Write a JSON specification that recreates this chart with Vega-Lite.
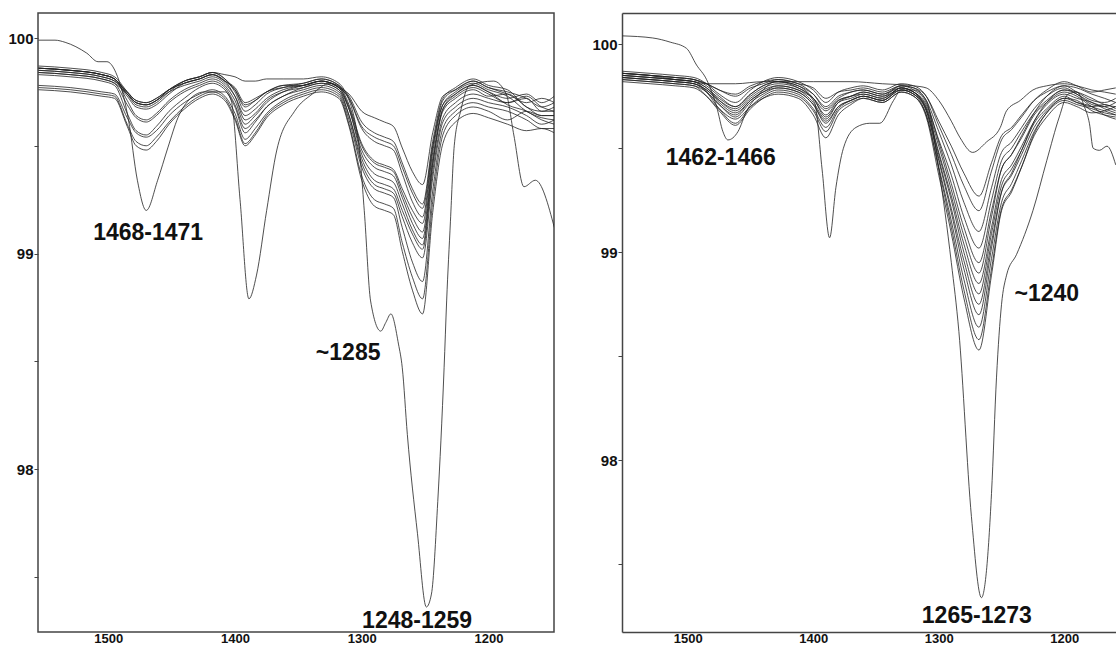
{
"$schema":"https://vega.github.io/schema/vega-lite/v6.json",
"background":"white",
"padding":{"left":7,"top":12,"right":0,"bottom":0},
"spacing":36,
"config":{"view":{"stroke":"#444","strokeWidth":1.5},"axis":{"grid":false,"title":null,"labelFont":"Liberation Sans","labelFontWeight":"bold","labelFontSize":15,"labelColor":"#111","tickColor":"#444","domainColor":"#444","domainWidth":1.5}},
"datasets":{
"left":[
{"s":"L1","x":1555,"y":99.86},{"s":"L1","x":1530,"y":99.85},{"s":"L1","x":1505,"y":99.83},{"s":"L1","x":1495,"y":99.81},{"s":"L1","x":1485,"y":99.75},{"s":"L1","x":1478,"y":99.71},{"s":"L1","x":1470,"y":99.70},{"s":"L1","x":1462,"y":99.72},{"s":"L1","x":1452,"y":99.76},{"s":"L1","x":1440,"y":99.79},{"s":"L1","x":1428,"y":99.81},{"s":"L1","x":1418,"y":99.83},{"s":"L1","x":1408,"y":99.80},{"s":"L1","x":1400,"y":99.77},{"s":"L1","x":1392,"y":99.70},{"s":"L1","x":1384,"y":99.72},{"s":"L1","x":1375,"y":99.75},{"s":"L1","x":1362,"y":99.78},{"s":"L1","x":1346,"y":99.78},{"s":"L1","x":1332,"y":99.80},{"s":"L1","x":1318,"y":99.77},{"s":"L1","x":1310,"y":99.74},{"s":"L1","x":1300,"y":99.66},{"s":"L1","x":1290,"y":99.63},{"s":"L1","x":1282,"y":99.61},{"s":"L1","x":1275,"y":99.59},{"s":"L1","x":1268,"y":99.49},{"s":"L1","x":1260,"y":99.38},{"s":"L1","x":1252,"y":99.32},{"s":"L1","x":1244,"y":99.56},{"s":"L1","x":1236,"y":99.73},{"s":"L1","x":1226,"y":99.76},{"s":"L1","x":1212,"y":99.80},{"s":"L1","x":1200,"y":99.77},{"s":"L1","x":1185,"y":99.74},{"s":"L1","x":1170,"y":99.70},{"s":"L1","x":1158,"y":99.72},{"s":"L1","x":1148,"y":99.70},
{"s":"L2","x":1555,"y":99.87},{"s":"L2","x":1530,"y":99.86},{"s":"L2","x":1505,"y":99.84},{"s":"L2","x":1495,"y":99.82},{"s":"L2","x":1485,"y":99.75},{"s":"L2","x":1478,"y":99.70},{"s":"L2","x":1470,"y":99.69},{"s":"L2","x":1462,"y":99.71},{"s":"L2","x":1452,"y":99.76},{"s":"L2","x":1440,"y":99.80},{"s":"L2","x":1428,"y":99.82},{"s":"L2","x":1418,"y":99.84},{"s":"L2","x":1408,"y":99.81},{"s":"L2","x":1400,"y":99.76},{"s":"L2","x":1392,"y":99.68},{"s":"L2","x":1384,"y":99.71},{"s":"L2","x":1375,"y":99.75},{"s":"L2","x":1362,"y":99.78},{"s":"L2","x":1346,"y":99.79},{"s":"L2","x":1332,"y":99.81},{"s":"L2","x":1318,"y":99.78},{"s":"L2","x":1310,"y":99.73},{"s":"L2","x":1300,"y":99.61},{"s":"L2","x":1290,"y":99.56},{"s":"L2","x":1282,"y":99.54},{"s":"L2","x":1275,"y":99.52},{"s":"L2","x":1268,"y":99.42},{"s":"L2","x":1260,"y":99.30},{"s":"L2","x":1252,"y":99.23},{"s":"L2","x":1244,"y":99.52},{"s":"L2","x":1236,"y":99.72},{"s":"L2","x":1226,"y":99.77},{"s":"L2","x":1212,"y":99.81},{"s":"L2","x":1200,"y":99.78},{"s":"L2","x":1185,"y":99.76},{"s":"L2","x":1170,"y":99.68},{"s":"L2","x":1158,"y":99.66},{"s":"L2","x":1148,"y":99.66},
{"s":"L3","x":1555,"y":99.85},{"s":"L3","x":1530,"y":99.84},{"s":"L3","x":1505,"y":99.82},{"s":"L3","x":1495,"y":99.80},{"s":"L3","x":1485,"y":99.75},{"s":"L3","x":1478,"y":99.71},{"s":"L3","x":1470,"y":99.70},{"s":"L3","x":1462,"y":99.72},{"s":"L3","x":1452,"y":99.76},{"s":"L3","x":1440,"y":99.79},{"s":"L3","x":1428,"y":99.81},{"s":"L3","x":1418,"y":99.83},{"s":"L3","x":1408,"y":99.80},{"s":"L3","x":1400,"y":99.76},{"s":"L3","x":1392,"y":99.69},{"s":"L3","x":1384,"y":99.71},{"s":"L3","x":1375,"y":99.75},{"s":"L3","x":1362,"y":99.77},{"s":"L3","x":1346,"y":99.78},{"s":"L3","x":1332,"y":99.80},{"s":"L3","x":1318,"y":99.77},{"s":"L3","x":1310,"y":99.72},{"s":"L3","x":1300,"y":99.59},{"s":"L3","x":1290,"y":99.54},{"s":"L3","x":1282,"y":99.52},{"s":"L3","x":1275,"y":99.50},{"s":"L3","x":1268,"y":99.40},{"s":"L3","x":1260,"y":99.28},{"s":"L3","x":1252,"y":99.21},{"s":"L3","x":1244,"y":99.50},{"s":"L3","x":1236,"y":99.69},{"s":"L3","x":1226,"y":99.74},{"s":"L3","x":1212,"y":99.78},{"s":"L3","x":1200,"y":99.75},{"s":"L3","x":1185,"y":99.72},{"s":"L3","x":1170,"y":99.74},{"s":"L3","x":1158,"y":99.70},{"s":"L3","x":1148,"y":99.73},
{"s":"L4","x":1555,"y":99.86},{"s":"L4","x":1530,"y":99.85},{"s":"L4","x":1505,"y":99.83},{"s":"L4","x":1495,"y":99.81},{"s":"L4","x":1485,"y":99.74},{"s":"L4","x":1478,"y":99.69},{"s":"L4","x":1470,"y":99.68},{"s":"L4","x":1462,"y":99.70},{"s":"L4","x":1452,"y":99.75},{"s":"L4","x":1440,"y":99.80},{"s":"L4","x":1428,"y":99.82},{"s":"L4","x":1418,"y":99.84},{"s":"L4","x":1408,"y":99.81},{"s":"L4","x":1400,"y":99.75},{"s":"L4","x":1392,"y":99.66},{"s":"L4","x":1384,"y":99.69},{"s":"L4","x":1375,"y":99.74},{"s":"L4","x":1362,"y":99.77},{"s":"L4","x":1346,"y":99.79},{"s":"L4","x":1332,"y":99.81},{"s":"L4","x":1318,"y":99.78},{"s":"L4","x":1310,"y":99.69},{"s":"L4","x":1300,"y":99.51},{"s":"L4","x":1290,"y":99.43},{"s":"L4","x":1282,"y":99.41},{"s":"L4","x":1275,"y":99.39},{"s":"L4","x":1268,"y":99.30},{"s":"L4","x":1260,"y":99.20},{"s":"L4","x":1252,"y":99.14},{"s":"L4","x":1244,"y":99.47},{"s":"L4","x":1236,"y":99.69},{"s":"L4","x":1226,"y":99.75},{"s":"L4","x":1212,"y":99.79},{"s":"L4","x":1200,"y":99.76},{"s":"L4","x":1185,"y":99.73},{"s":"L4","x":1170,"y":99.66},{"s":"L4","x":1158,"y":99.63},{"s":"L4","x":1148,"y":99.62},
{"s":"L5","x":1555,"y":99.84},{"s":"L5","x":1530,"y":99.83},{"s":"L5","x":1505,"y":99.81},{"s":"L5","x":1495,"y":99.79},{"s":"L5","x":1485,"y":99.74},{"s":"L5","x":1478,"y":99.70},{"s":"L5","x":1470,"y":99.69},{"s":"L5","x":1462,"y":99.71},{"s":"L5","x":1452,"y":99.75},{"s":"L5","x":1440,"y":99.78},{"s":"L5","x":1428,"y":99.80},{"s":"L5","x":1418,"y":99.82},{"s":"L5","x":1408,"y":99.79},{"s":"L5","x":1400,"y":99.73},{"s":"L5","x":1392,"y":99.64},{"s":"L5","x":1384,"y":99.67},{"s":"L5","x":1375,"y":99.72},{"s":"L5","x":1362,"y":99.76},{"s":"L5","x":1346,"y":99.78},{"s":"L5","x":1332,"y":99.80},{"s":"L5","x":1318,"y":99.77},{"s":"L5","x":1310,"y":99.68},{"s":"L5","x":1300,"y":99.50},{"s":"L5","x":1290,"y":99.42},{"s":"L5","x":1282,"y":99.40},{"s":"L5","x":1275,"y":99.38},{"s":"L5","x":1268,"y":99.28},{"s":"L5","x":1260,"y":99.17},{"s":"L5","x":1252,"y":99.10},{"s":"L5","x":1244,"y":99.44},{"s":"L5","x":1236,"y":99.67},{"s":"L5","x":1226,"y":99.73},{"s":"L5","x":1212,"y":99.77},{"s":"L5","x":1200,"y":99.74},{"s":"L5","x":1185,"y":99.70},{"s":"L5","x":1170,"y":99.72},{"s":"L5","x":1158,"y":99.66},{"s":"L5","x":1148,"y":99.68},
{"s":"L6","x":1555,"y":99.85},{"s":"L6","x":1530,"y":99.84},{"s":"L6","x":1505,"y":99.82},{"s":"L6","x":1495,"y":99.80},{"s":"L6","x":1485,"y":99.73},{"s":"L6","x":1478,"y":99.68},{"s":"L6","x":1470,"y":99.67},{"s":"L6","x":1462,"y":99.69},{"s":"L6","x":1452,"y":99.74},{"s":"L6","x":1440,"y":99.79},{"s":"L6","x":1428,"y":99.81},{"s":"L6","x":1418,"y":99.83},{"s":"L6","x":1408,"y":99.80},{"s":"L6","x":1400,"y":99.73},{"s":"L6","x":1392,"y":99.62},{"s":"L6","x":1384,"y":99.65},{"s":"L6","x":1375,"y":99.71},{"s":"L6","x":1362,"y":99.75},{"s":"L6","x":1346,"y":99.77},{"s":"L6","x":1332,"y":99.79},{"s":"L6","x":1318,"y":99.76},{"s":"L6","x":1310,"y":99.67},{"s":"L6","x":1300,"y":99.48},{"s":"L6","x":1290,"y":99.40},{"s":"L6","x":1282,"y":99.38},{"s":"L6","x":1275,"y":99.36},{"s":"L6","x":1268,"y":99.26},{"s":"L6","x":1260,"y":99.14},{"s":"L6","x":1252,"y":99.07},{"s":"L6","x":1244,"y":99.42},{"s":"L6","x":1236,"y":99.66},{"s":"L6","x":1226,"y":99.72},{"s":"L6","x":1212,"y":99.76},{"s":"L6","x":1200,"y":99.73},{"s":"L6","x":1185,"y":99.74},{"s":"L6","x":1170,"y":99.68},{"s":"L6","x":1158,"y":99.64},{"s":"L6","x":1148,"y":99.64},
{"s":"L7","x":1555,"y":99.86},{"s":"L7","x":1530,"y":99.85},{"s":"L7","x":1505,"y":99.83},{"s":"L7","x":1495,"y":99.81},{"s":"L7","x":1485,"y":99.71},{"s":"L7","x":1478,"y":99.64},{"s":"L7","x":1470,"y":99.62},{"s":"L7","x":1462,"y":99.65},{"s":"L7","x":1452,"y":99.71},{"s":"L7","x":1440,"y":99.76},{"s":"L7","x":1428,"y":99.79},{"s":"L7","x":1418,"y":99.81},{"s":"L7","x":1408,"y":99.78},{"s":"L7","x":1400,"y":99.71},{"s":"L7","x":1392,"y":99.60},{"s":"L7","x":1384,"y":99.64},{"s":"L7","x":1375,"y":99.70},{"s":"L7","x":1362,"y":99.75},{"s":"L7","x":1346,"y":99.78},{"s":"L7","x":1332,"y":99.80},{"s":"L7","x":1318,"y":99.77},{"s":"L7","x":1310,"y":99.67},{"s":"L7","x":1300,"y":99.46},{"s":"L7","x":1290,"y":99.37},{"s":"L7","x":1282,"y":99.35},{"s":"L7","x":1275,"y":99.33},{"s":"L7","x":1268,"y":99.23},{"s":"L7","x":1260,"y":99.11},{"s":"L7","x":1252,"y":99.04},{"s":"L7","x":1244,"y":99.41},{"s":"L7","x":1236,"y":99.67},{"s":"L7","x":1226,"y":99.74},{"s":"L7","x":1212,"y":99.78},{"s":"L7","x":1200,"y":99.75},{"s":"L7","x":1185,"y":99.69},{"s":"L7","x":1170,"y":99.66},{"s":"L7","x":1158,"y":99.62},{"s":"L7","x":1148,"y":99.60},
{"s":"L8","x":1555,"y":99.84},{"s":"L8","x":1530,"y":99.83},{"s":"L8","x":1505,"y":99.81},{"s":"L8","x":1495,"y":99.79},{"s":"L8","x":1485,"y":99.69},{"s":"L8","x":1478,"y":99.63},{"s":"L8","x":1470,"y":99.61},{"s":"L8","x":1462,"y":99.64},{"s":"L8","x":1452,"y":99.70},{"s":"L8","x":1440,"y":99.75},{"s":"L8","x":1428,"y":99.78},{"s":"L8","x":1418,"y":99.80},{"s":"L8","x":1408,"y":99.77},{"s":"L8","x":1400,"y":99.69},{"s":"L8","x":1392,"y":99.58},{"s":"L8","x":1384,"y":99.62},{"s":"L8","x":1375,"y":99.68},{"s":"L8","x":1362,"y":99.73},{"s":"L8","x":1346,"y":99.76},{"s":"L8","x":1332,"y":99.78},{"s":"L8","x":1318,"y":99.75},{"s":"L8","x":1310,"y":99.64},{"s":"L8","x":1300,"y":99.44},{"s":"L8","x":1290,"y":99.34},{"s":"L8","x":1282,"y":99.32},{"s":"L8","x":1275,"y":99.30},{"s":"L8","x":1268,"y":99.20},{"s":"L8","x":1260,"y":99.09},{"s":"L8","x":1252,"y":99.02},{"s":"L8","x":1244,"y":99.38},{"s":"L8","x":1236,"y":99.63},{"s":"L8","x":1226,"y":99.70},{"s":"L8","x":1212,"y":99.74},{"s":"L8","x":1200,"y":99.72},{"s":"L8","x":1185,"y":99.70},{"s":"L8","x":1170,"y":99.73},{"s":"L8","x":1158,"y":99.68},{"s":"L8","x":1148,"y":99.66},
{"s":"L9","x":1555,"y":99.83},{"s":"L9","x":1530,"y":99.82},{"s":"L9","x":1505,"y":99.80},{"s":"L9","x":1495,"y":99.78},{"s":"L9","x":1485,"y":99.65},{"s":"L9","x":1478,"y":99.57},{"s":"L9","x":1470,"y":99.55},{"s":"L9","x":1462,"y":99.59},{"s":"L9","x":1452,"y":99.66},{"s":"L9","x":1440,"y":99.72},{"s":"L9","x":1428,"y":99.77},{"s":"L9","x":1418,"y":99.79},{"s":"L9","x":1408,"y":99.76},{"s":"L9","x":1400,"y":99.68},{"s":"L9","x":1392,"y":99.56},{"s":"L9","x":1384,"y":99.61},{"s":"L9","x":1375,"y":99.68},{"s":"L9","x":1362,"y":99.73},{"s":"L9","x":1346,"y":99.77},{"s":"L9","x":1332,"y":99.79},{"s":"L9","x":1318,"y":99.76},{"s":"L9","x":1310,"y":99.64},{"s":"L9","x":1300,"y":99.42},{"s":"L9","x":1290,"y":99.32},{"s":"L9","x":1282,"y":99.30},{"s":"L9","x":1275,"y":99.28},{"s":"L9","x":1268,"y":99.17},{"s":"L9","x":1260,"y":99.05},{"s":"L9","x":1252,"y":98.98},{"s":"L9","x":1244,"y":99.35},{"s":"L9","x":1236,"y":99.61},{"s":"L9","x":1226,"y":99.68},{"s":"L9","x":1212,"y":99.72},{"s":"L9","x":1200,"y":99.70},{"s":"L9","x":1185,"y":99.68},{"s":"L9","x":1170,"y":99.64},{"s":"L9","x":1158,"y":99.60},{"s":"L9","x":1148,"y":99.62},
{"s":"L10","x":1555,"y":99.78},{"s":"L10","x":1530,"y":99.77},{"s":"L10","x":1505,"y":99.75},{"s":"L10","x":1495,"y":99.74},{"s":"L10","x":1485,"y":99.63},{"s":"L10","x":1478,"y":99.56},{"s":"L10","x":1470,"y":99.54},{"s":"L10","x":1462,"y":99.57},{"s":"L10","x":1452,"y":99.64},{"s":"L10","x":1440,"y":99.70},{"s":"L10","x":1428,"y":99.74},{"s":"L10","x":1418,"y":99.76},{"s":"L10","x":1408,"y":99.73},{"s":"L10","x":1400,"y":99.65},{"s":"L10","x":1392,"y":99.53},{"s":"L10","x":1384,"y":99.58},{"s":"L10","x":1375,"y":99.65},{"s":"L10","x":1362,"y":99.71},{"s":"L10","x":1346,"y":99.75},{"s":"L10","x":1332,"y":99.77},{"s":"L10","x":1318,"y":99.74},{"s":"L10","x":1310,"y":99.62},{"s":"L10","x":1300,"y":99.40},{"s":"L10","x":1290,"y":99.30},{"s":"L10","x":1282,"y":99.28},{"s":"L10","x":1275,"y":99.26},{"s":"L10","x":1268,"y":99.12},{"s":"L10","x":1260,"y":98.96},{"s":"L10","x":1252,"y":98.87},{"s":"L10","x":1244,"y":99.29},{"s":"L10","x":1236,"y":99.58},{"s":"L10","x":1226,"y":99.66},{"s":"L10","x":1212,"y":99.70},{"s":"L10","x":1200,"y":99.68},{"s":"L10","x":1185,"y":99.66},{"s":"L10","x":1170,"y":99.62},{"s":"L10","x":1158,"y":99.58},{"s":"L10","x":1148,"y":99.58},
{"s":"L11","x":1555,"y":99.77},{"s":"L11","x":1530,"y":99.76},{"s":"L11","x":1505,"y":99.74},{"s":"L11","x":1495,"y":99.73},{"s":"L11","x":1485,"y":99.60},{"s":"L11","x":1478,"y":99.52},{"s":"L11","x":1470,"y":99.50},{"s":"L11","x":1462,"y":99.54},{"s":"L11","x":1452,"y":99.61},{"s":"L11","x":1440,"y":99.68},{"s":"L11","x":1428,"y":99.73},{"s":"L11","x":1418,"y":99.75},{"s":"L11","x":1408,"y":99.72},{"s":"L11","x":1400,"y":99.63},{"s":"L11","x":1392,"y":99.51},{"s":"L11","x":1384,"y":99.56},{"s":"L11","x":1375,"y":99.64},{"s":"L11","x":1362,"y":99.70},{"s":"L11","x":1346,"y":99.74},{"s":"L11","x":1332,"y":99.76},{"s":"L11","x":1318,"y":99.73},{"s":"L11","x":1310,"y":99.60},{"s":"L11","x":1300,"y":99.36},{"s":"L11","x":1290,"y":99.25},{"s":"L11","x":1282,"y":99.23},{"s":"L11","x":1275,"y":99.21},{"s":"L11","x":1268,"y":99.05},{"s":"L11","x":1260,"y":98.89},{"s":"L11","x":1252,"y":98.79},{"s":"L11","x":1244,"y":99.24},{"s":"L11","x":1236,"y":99.55},{"s":"L11","x":1226,"y":99.64},{"s":"L11","x":1212,"y":99.68},{"s":"L11","x":1200,"y":99.66},{"s":"L11","x":1185,"y":99.62},{"s":"L11","x":1170,"y":99.66},{"s":"L11","x":1158,"y":99.64},{"s":"L11","x":1148,"y":99.64},
{"s":"L12","x":1555,"y":99.76},{"s":"L12","x":1530,"y":99.75},{"s":"L12","x":1505,"y":99.73},{"s":"L12","x":1495,"y":99.72},{"s":"L12","x":1485,"y":99.59},{"s":"L12","x":1478,"y":99.50},{"s":"L12","x":1470,"y":99.48},{"s":"L12","x":1462,"y":99.52},{"s":"L12","x":1452,"y":99.60},{"s":"L12","x":1440,"y":99.67},{"s":"L12","x":1428,"y":99.72},{"s":"L12","x":1418,"y":99.74},{"s":"L12","x":1408,"y":99.71},{"s":"L12","x":1400,"y":99.62},{"s":"L12","x":1392,"y":99.50},{"s":"L12","x":1384,"y":99.55},{"s":"L12","x":1375,"y":99.63},{"s":"L12","x":1362,"y":99.69},{"s":"L12","x":1346,"y":99.73},{"s":"L12","x":1332,"y":99.75},{"s":"L12","x":1318,"y":99.72},{"s":"L12","x":1310,"y":99.59},{"s":"L12","x":1300,"y":99.34},{"s":"L12","x":1290,"y":99.22},{"s":"L12","x":1282,"y":99.20},{"s":"L12","x":1275,"y":99.18},{"s":"L12","x":1268,"y":99.01},{"s":"L12","x":1260,"y":98.83},{"s":"L12","x":1252,"y":98.72},{"s":"L12","x":1244,"y":99.19},{"s":"L12","x":1236,"y":99.51},{"s":"L12","x":1226,"y":99.61},{"s":"L12","x":1212,"y":99.65},{"s":"L12","x":1200,"y":99.63},{"s":"L12","x":1185,"y":99.60},{"s":"L12","x":1170,"y":99.57},{"s":"L12","x":1158,"y":99.58},{"s":"L12","x":1148,"y":99.56},
{"s":"L13","x":1555,"y":99.86},{"s":"L13","x":1530,"y":99.85},{"s":"L13","x":1505,"y":99.83},{"s":"L13","x":1495,"y":99.81},{"s":"L13","x":1485,"y":99.74},{"s":"L13","x":1478,"y":99.70},{"s":"L13","x":1470,"y":99.69},{"s":"L13","x":1462,"y":99.71},{"s":"L13","x":1452,"y":99.76},{"s":"L13","x":1440,"y":99.80},{"s":"L13","x":1428,"y":99.82},{"s":"L13","x":1418,"y":99.84},{"s":"L13","x":1408,"y":99.83},{"s":"L13","x":1400,"y":99.82},{"s":"L13","x":1392,"y":99.80},{"s":"L13","x":1384,"y":99.80},{"s":"L13","x":1375,"y":99.81},{"s":"L13","x":1362,"y":99.81},{"s":"L13","x":1346,"y":99.81},{"s":"L13","x":1332,"y":99.82},{"s":"L13","x":1318,"y":99.79},{"s":"L13","x":1310,"y":99.72},{"s":"L13","x":1300,"y":99.58},{"s":"L13","x":1290,"y":99.52},{"s":"L13","x":1282,"y":99.50},{"s":"L13","x":1275,"y":99.48},{"s":"L13","x":1268,"y":99.37},{"s":"L13","x":1260,"y":99.24},{"s":"L13","x":1252,"y":99.17},{"s":"L13","x":1244,"y":99.49},{"s":"L13","x":1236,"y":99.71},{"s":"L13","x":1226,"y":99.76},{"s":"L13","x":1212,"y":99.80},{"s":"L13","x":1200,"y":99.77},{"s":"L13","x":1185,"y":99.75},{"s":"L13","x":1170,"y":99.72},{"s":"L13","x":1158,"y":99.68},{"s":"L13","x":1148,"y":99.70},
{"s":"L0","x":1555,"y":99.99},{"s":"L0","x":1542,"y":99.99},{"s":"L0","x":1534,"y":99.98},{"s":"L0","x":1517,"y":99.93},{"s":"L0","x":1508,"y":99.89},{"s":"L0","x":1501,"y":99.89},{"s":"L0","x":1494,"y":99.84},{"s":"L0","x":1484,"y":99.62},{"s":"L0","x":1477,"y":99.34},{"s":"L0","x":1470,"y":99.20},{"s":"L0","x":1461,"y":99.34},{"s":"L0","x":1453,"y":99.49},{"s":"L0","x":1445,"y":99.63},{"s":"L0","x":1435,"y":99.72},{"s":"L0","x":1424,"y":99.75},{"s":"L0","x":1408,"y":99.75},{"s":"L0","x":1403,"y":99.71},{"s":"L0","x":1396,"y":99.25},{"s":"L0","x":1389,"y":98.79},{"s":"L0","x":1383,"y":98.90},{"s":"L0","x":1375,"y":99.20},{"s":"L0","x":1367,"y":99.48},{"s":"L0","x":1353,"y":99.66},{"s":"L0","x":1339,"y":99.74},{"s":"L0","x":1325,"y":99.79},{"s":"L0","x":1315,"y":99.76},{"s":"L0","x":1303,"y":99.54},{"s":"L0","x":1298,"y":99.20},{"s":"L0","x":1293,"y":98.78},{"s":"L0","x":1285,"y":98.64},{"s":"L0","x":1281,"y":98.68},{"s":"L0","x":1277,"y":98.72},{"s":"L0","x":1271,"y":98.58},{"s":"L0","x":1268,"y":98.47},{"s":"L0","x":1264,"y":98.16},{"s":"L0","x":1256,"y":97.70},{"s":"L0","x":1249,"y":97.36},{"s":"L0","x":1245,"y":97.42},{"s":"L0","x":1240,"y":97.85},{"s":"L0","x":1235,"y":98.47},{"s":"L0","x":1233,"y":98.78},{"s":"L0","x":1230,"y":99.15},{"s":"L0","x":1227,"y":99.50},{"s":"L0","x":1222,"y":99.66},{"s":"L0","x":1215,"y":99.78},{"s":"L0","x":1196,"y":99.80},{"s":"L0","x":1186,"y":99.74},{"s":"L0","x":1180,"y":99.55},{"s":"L0","x":1172,"y":99.31},{"s":"L0","x":1163,"y":99.34},{"s":"L0","x":1148,"y":99.12}
],
"right":[
{"s":"R1","x":1552,"y":99.86},{"s":"R1","x":1530,"y":99.85},{"s":"R1","x":1510,"y":99.84},{"s":"R1","x":1495,"y":99.83},{"s":"R1","x":1485,"y":99.81},{"s":"R1","x":1475,"y":99.78},{"s":"R1","x":1462,"y":99.76},{"s":"R1","x":1450,"y":99.80},{"s":"R1","x":1440,"y":99.82},{"s":"R1","x":1428,"y":99.83},{"s":"R1","x":1412,"y":99.81},{"s":"R1","x":1400,"y":99.79},{"s":"R1","x":1390,"y":99.74},{"s":"R1","x":1380,"y":99.77},{"s":"R1","x":1370,"y":99.78},{"s":"R1","x":1360,"y":99.79},{"s":"R1","x":1345,"y":99.77},{"s":"R1","x":1330,"y":99.80},{"s":"R1","x":1320,"y":99.79},{"s":"R1","x":1310,"y":99.75},{"s":"R1","x":1300,"y":99.63},{"s":"R1","x":1290,"y":99.51},{"s":"R1","x":1280,"y":99.38},{"s":"R1","x":1268,"y":99.27},{"s":"R1","x":1258,"y":99.43},{"s":"R1","x":1250,"y":99.56},{"s":"R1","x":1242,"y":99.60},{"s":"R1","x":1234,"y":99.66},{"s":"R1","x":1224,"y":99.73},{"s":"R1","x":1214,"y":99.77},{"s":"R1","x":1200,"y":99.80},{"s":"R1","x":1190,"y":99.79},{"s":"R1","x":1178,"y":99.76},{"s":"R1","x":1168,"y":99.74},{"s":"R1","x":1159,"y":99.72},
{"s":"R2","x":1552,"y":99.87},{"s":"R2","x":1530,"y":99.86},{"s":"R2","x":1510,"y":99.85},{"s":"R2","x":1495,"y":99.84},{"s":"R2","x":1485,"y":99.81},{"s":"R2","x":1475,"y":99.76},{"s":"R2","x":1462,"y":99.72},{"s":"R2","x":1450,"y":99.78},{"s":"R2","x":1440,"y":99.82},{"s":"R2","x":1428,"y":99.84},{"s":"R2","x":1412,"y":99.82},{"s":"R2","x":1400,"y":99.78},{"s":"R2","x":1390,"y":99.72},{"s":"R2","x":1380,"y":99.77},{"s":"R2","x":1370,"y":99.79},{"s":"R2","x":1360,"y":99.80},{"s":"R2","x":1345,"y":99.78},{"s":"R2","x":1330,"y":99.81},{"s":"R2","x":1320,"y":99.80},{"s":"R2","x":1310,"y":99.75},{"s":"R2","x":1300,"y":99.61},{"s":"R2","x":1290,"y":99.47},{"s":"R2","x":1280,"y":99.32},{"s":"R2","x":1268,"y":99.20},{"s":"R2","x":1258,"y":99.39},{"s":"R2","x":1250,"y":99.54},{"s":"R2","x":1242,"y":99.59},{"s":"R2","x":1234,"y":99.65},{"s":"R2","x":1224,"y":99.73},{"s":"R2","x":1214,"y":99.78},{"s":"R2","x":1200,"y":99.82},{"s":"R2","x":1190,"y":99.80},{"s":"R2","x":1178,"y":99.77},{"s":"R2","x":1168,"y":99.78},{"s":"R2","x":1159,"y":99.79},
{"s":"R3","x":1552,"y":99.85},{"s":"R3","x":1530,"y":99.84},{"s":"R3","x":1510,"y":99.83},{"s":"R3","x":1495,"y":99.82},{"s":"R3","x":1485,"y":99.79},{"s":"R3","x":1475,"y":99.74},{"s":"R3","x":1462,"y":99.70},{"s":"R3","x":1450,"y":99.76},{"s":"R3","x":1440,"y":99.80},{"s":"R3","x":1428,"y":99.82},{"s":"R3","x":1412,"y":99.80},{"s":"R3","x":1400,"y":99.76},{"s":"R3","x":1390,"y":99.70},{"s":"R3","x":1380,"y":99.75},{"s":"R3","x":1370,"y":99.77},{"s":"R3","x":1360,"y":99.78},{"s":"R3","x":1345,"y":99.76},{"s":"R3","x":1330,"y":99.80},{"s":"R3","x":1320,"y":99.79},{"s":"R3","x":1310,"y":99.73},{"s":"R3","x":1300,"y":99.58},{"s":"R3","x":1290,"y":99.42},{"s":"R3","x":1280,"y":99.24},{"s":"R3","x":1268,"y":99.10},{"s":"R3","x":1258,"y":99.31},{"s":"R3","x":1250,"y":99.48},{"s":"R3","x":1242,"y":99.53},{"s":"R3","x":1234,"y":99.60},{"s":"R3","x":1224,"y":99.69},{"s":"R3","x":1214,"y":99.75},{"s":"R3","x":1200,"y":99.79},{"s":"R3","x":1190,"y":99.76},{"s":"R3","x":1178,"y":99.72},{"s":"R3","x":1168,"y":99.70},{"s":"R3","x":1159,"y":99.68},
{"s":"R4","x":1552,"y":99.86},{"s":"R4","x":1530,"y":99.85},{"s":"R4","x":1510,"y":99.84},{"s":"R4","x":1495,"y":99.83},{"s":"R4","x":1485,"y":99.81},{"s":"R4","x":1475,"y":99.78},{"s":"R4","x":1462,"y":99.75},{"s":"R4","x":1450,"y":99.79},{"s":"R4","x":1440,"y":99.81},{"s":"R4","x":1428,"y":99.83},{"s":"R4","x":1412,"y":99.81},{"s":"R4","x":1400,"y":99.76},{"s":"R4","x":1390,"y":99.69},{"s":"R4","x":1380,"y":99.74},{"s":"R4","x":1370,"y":99.77},{"s":"R4","x":1360,"y":99.78},{"s":"R4","x":1345,"y":99.76},{"s":"R4","x":1330,"y":99.79},{"s":"R4","x":1320,"y":99.77},{"s":"R4","x":1310,"y":99.71},{"s":"R4","x":1300,"y":99.54},{"s":"R4","x":1290,"y":99.37},{"s":"R4","x":1280,"y":99.17},{"s":"R4","x":1268,"y":99.02},{"s":"R4","x":1258,"y":99.25},{"s":"R4","x":1250,"y":99.44},{"s":"R4","x":1242,"y":99.50},{"s":"R4","x":1234,"y":99.58},{"s":"R4","x":1224,"y":99.67},{"s":"R4","x":1214,"y":99.73},{"s":"R4","x":1200,"y":99.78},{"s":"R4","x":1190,"y":99.77},{"s":"R4","x":1178,"y":99.74},{"s":"R4","x":1168,"y":99.71},{"s":"R4","x":1159,"y":99.70},
{"s":"R5","x":1552,"y":99.84},{"s":"R5","x":1530,"y":99.83},{"s":"R5","x":1510,"y":99.82},{"s":"R5","x":1495,"y":99.81},{"s":"R5","x":1485,"y":99.78},{"s":"R5","x":1475,"y":99.73},{"s":"R5","x":1462,"y":99.69},{"s":"R5","x":1450,"y":99.75},{"s":"R5","x":1440,"y":99.79},{"s":"R5","x":1428,"y":99.81},{"s":"R5","x":1412,"y":99.79},{"s":"R5","x":1400,"y":99.74},{"s":"R5","x":1390,"y":99.66},{"s":"R5","x":1380,"y":99.73},{"s":"R5","x":1370,"y":99.75},{"s":"R5","x":1360,"y":99.77},{"s":"R5","x":1345,"y":99.75},{"s":"R5","x":1330,"y":99.80},{"s":"R5","x":1320,"y":99.78},{"s":"R5","x":1310,"y":99.72},{"s":"R5","x":1300,"y":99.53},{"s":"R5","x":1290,"y":99.33},{"s":"R5","x":1280,"y":99.12},{"s":"R5","x":1268,"y":98.95},{"s":"R5","x":1258,"y":99.20},{"s":"R5","x":1250,"y":99.40},{"s":"R5","x":1242,"y":99.47},{"s":"R5","x":1234,"y":99.55},{"s":"R5","x":1224,"y":99.66},{"s":"R5","x":1214,"y":99.72},{"s":"R5","x":1200,"y":99.77},{"s":"R5","x":1190,"y":99.75},{"s":"R5","x":1178,"y":99.70},{"s":"R5","x":1168,"y":99.68},{"s":"R5","x":1159,"y":99.66},
{"s":"R6","x":1552,"y":99.85},{"s":"R6","x":1530,"y":99.84},{"s":"R6","x":1510,"y":99.83},{"s":"R6","x":1495,"y":99.82},{"s":"R6","x":1485,"y":99.79},{"s":"R6","x":1475,"y":99.73},{"s":"R6","x":1462,"y":99.68},{"s":"R6","x":1450,"y":99.74},{"s":"R6","x":1440,"y":99.78},{"s":"R6","x":1428,"y":99.80},{"s":"R6","x":1412,"y":99.78},{"s":"R6","x":1400,"y":99.74},{"s":"R6","x":1390,"y":99.68},{"s":"R6","x":1380,"y":99.73},{"s":"R6","x":1370,"y":99.75},{"s":"R6","x":1360,"y":99.76},{"s":"R6","x":1345,"y":99.74},{"s":"R6","x":1330,"y":99.79},{"s":"R6","x":1320,"y":99.77},{"s":"R6","x":1310,"y":99.70},{"s":"R6","x":1300,"y":99.51},{"s":"R6","x":1290,"y":99.30},{"s":"R6","x":1280,"y":99.08},{"s":"R6","x":1268,"y":98.90},{"s":"R6","x":1258,"y":99.17},{"s":"R6","x":1250,"y":99.40},{"s":"R6","x":1242,"y":99.47},{"s":"R6","x":1234,"y":99.56},{"s":"R6","x":1224,"y":99.67},{"s":"R6","x":1214,"y":99.75},{"s":"R6","x":1200,"y":99.80},{"s":"R6","x":1190,"y":99.77},{"s":"R6","x":1178,"y":99.73},{"s":"R6","x":1168,"y":99.72},{"s":"R6","x":1159,"y":99.74},
{"s":"R7","x":1552,"y":99.83},{"s":"R7","x":1530,"y":99.82},{"s":"R7","x":1510,"y":99.81},{"s":"R7","x":1495,"y":99.80},{"s":"R7","x":1485,"y":99.77},{"s":"R7","x":1475,"y":99.71},{"s":"R7","x":1462,"y":99.66},{"s":"R7","x":1450,"y":99.73},{"s":"R7","x":1440,"y":99.77},{"s":"R7","x":1428,"y":99.80},{"s":"R7","x":1412,"y":99.78},{"s":"R7","x":1400,"y":99.72},{"s":"R7","x":1390,"y":99.64},{"s":"R7","x":1380,"y":99.72},{"s":"R7","x":1370,"y":99.75},{"s":"R7","x":1360,"y":99.77},{"s":"R7","x":1345,"y":99.75},{"s":"R7","x":1330,"y":99.78},{"s":"R7","x":1320,"y":99.76},{"s":"R7","x":1310,"y":99.69},{"s":"R7","x":1300,"y":99.48},{"s":"R7","x":1290,"y":99.27},{"s":"R7","x":1280,"y":99.04},{"s":"R7","x":1268,"y":98.85},{"s":"R7","x":1258,"y":99.12},{"s":"R7","x":1250,"y":99.35},{"s":"R7","x":1242,"y":99.42},{"s":"R7","x":1234,"y":99.51},{"s":"R7","x":1224,"y":99.63},{"s":"R7","x":1214,"y":99.71},{"s":"R7","x":1200,"y":99.76},{"s":"R7","x":1190,"y":99.74},{"s":"R7","x":1178,"y":99.72},{"s":"R7","x":1168,"y":99.69},{"s":"R7","x":1159,"y":99.67},
{"s":"R8","x":1552,"y":99.86},{"s":"R8","x":1530,"y":99.85},{"s":"R8","x":1510,"y":99.84},{"s":"R8","x":1495,"y":99.83},{"s":"R8","x":1485,"y":99.80},{"s":"R8","x":1475,"y":99.75},{"s":"R8","x":1462,"y":99.70},{"s":"R8","x":1450,"y":99.76},{"s":"R8","x":1440,"y":99.80},{"s":"R8","x":1428,"y":99.82},{"s":"R8","x":1412,"y":99.80},{"s":"R8","x":1400,"y":99.74},{"s":"R8","x":1390,"y":99.65},{"s":"R8","x":1380,"y":99.72},{"s":"R8","x":1370,"y":99.74},{"s":"R8","x":1360,"y":99.76},{"s":"R8","x":1345,"y":99.74},{"s":"R8","x":1330,"y":99.79},{"s":"R8","x":1320,"y":99.77},{"s":"R8","x":1310,"y":99.69},{"s":"R8","x":1300,"y":99.47},{"s":"R8","x":1290,"y":99.25},{"s":"R8","x":1280,"y":99.00},{"s":"R8","x":1268,"y":98.80},{"s":"R8","x":1258,"y":99.09},{"s":"R8","x":1250,"y":99.32},{"s":"R8","x":1242,"y":99.40},{"s":"R8","x":1234,"y":99.49},{"s":"R8","x":1224,"y":99.62},{"s":"R8","x":1214,"y":99.69},{"s":"R8","x":1200,"y":99.75},{"s":"R8","x":1190,"y":99.72},{"s":"R8","x":1178,"y":99.70},{"s":"R8","x":1168,"y":99.71},{"s":"R8","x":1159,"y":99.69},
{"s":"R9","x":1552,"y":99.84},{"s":"R9","x":1530,"y":99.83},{"s":"R9","x":1510,"y":99.82},{"s":"R9","x":1495,"y":99.81},{"s":"R9","x":1485,"y":99.77},{"s":"R9","x":1475,"y":99.71},{"s":"R9","x":1462,"y":99.65},{"s":"R9","x":1450,"y":99.72},{"s":"R9","x":1440,"y":99.76},{"s":"R9","x":1428,"y":99.79},{"s":"R9","x":1412,"y":99.77},{"s":"R9","x":1400,"y":99.71},{"s":"R9","x":1390,"y":99.62},{"s":"R9","x":1380,"y":99.70},{"s":"R9","x":1370,"y":99.73},{"s":"R9","x":1360,"y":99.75},{"s":"R9","x":1345,"y":99.73},{"s":"R9","x":1330,"y":99.78},{"s":"R9","x":1320,"y":99.76},{"s":"R9","x":1310,"y":99.68},{"s":"R9","x":1300,"y":99.45},{"s":"R9","x":1290,"y":99.21},{"s":"R9","x":1280,"y":98.96},{"s":"R9","x":1268,"y":98.75},{"s":"R9","x":1258,"y":99.05},{"s":"R9","x":1250,"y":99.29},{"s":"R9","x":1242,"y":99.37},{"s":"R9","x":1234,"y":99.47},{"s":"R9","x":1224,"y":99.60},{"s":"R9","x":1214,"y":99.68},{"s":"R9","x":1200,"y":99.74},{"s":"R9","x":1190,"y":99.73},{"s":"R9","x":1178,"y":99.68},{"s":"R9","x":1168,"y":99.66},{"s":"R9","x":1159,"y":99.65},
{"s":"R10","x":1552,"y":99.85},{"s":"R10","x":1530,"y":99.84},{"s":"R10","x":1510,"y":99.83},{"s":"R10","x":1495,"y":99.82},{"s":"R10","x":1485,"y":99.77},{"s":"R10","x":1475,"y":99.69},{"s":"R10","x":1462,"y":99.62},{"s":"R10","x":1450,"y":99.70},{"s":"R10","x":1440,"y":99.75},{"s":"R10","x":1428,"y":99.78},{"s":"R10","x":1412,"y":99.76},{"s":"R10","x":1400,"y":99.69},{"s":"R10","x":1390,"y":99.60},{"s":"R10","x":1380,"y":99.69},{"s":"R10","x":1370,"y":99.73},{"s":"R10","x":1360,"y":99.75},{"s":"R10","x":1345,"y":99.73},{"s":"R10","x":1330,"y":99.79},{"s":"R10","x":1320,"y":99.77},{"s":"R10","x":1310,"y":99.68},{"s":"R10","x":1300,"y":99.44},{"s":"R10","x":1290,"y":99.19},{"s":"R10","x":1280,"y":98.92},{"s":"R10","x":1268,"y":98.70},{"s":"R10","x":1258,"y":99.02},{"s":"R10","x":1250,"y":99.29},{"s":"R10","x":1242,"y":99.38},{"s":"R10","x":1234,"y":99.49},{"s":"R10","x":1224,"y":99.63},{"s":"R10","x":1214,"y":99.72},{"s":"R10","x":1200,"y":99.78},{"s":"R10","x":1190,"y":99.76},{"s":"R10","x":1178,"y":99.71},{"s":"R10","x":1168,"y":99.70},{"s":"R10","x":1159,"y":99.72},
{"s":"R11","x":1552,"y":99.83},{"s":"R11","x":1530,"y":99.82},{"s":"R11","x":1510,"y":99.81},{"s":"R11","x":1495,"y":99.80},{"s":"R11","x":1485,"y":99.75},{"s":"R11","x":1475,"y":99.68},{"s":"R11","x":1462,"y":99.61},{"s":"R11","x":1450,"y":99.69},{"s":"R11","x":1440,"y":99.74},{"s":"R11","x":1428,"y":99.77},{"s":"R11","x":1412,"y":99.75},{"s":"R11","x":1400,"y":99.68},{"s":"R11","x":1390,"y":99.58},{"s":"R11","x":1380,"y":99.68},{"s":"R11","x":1370,"y":99.72},{"s":"R11","x":1360,"y":99.74},{"s":"R11","x":1345,"y":99.72},{"s":"R11","x":1330,"y":99.77},{"s":"R11","x":1320,"y":99.75},{"s":"R11","x":1310,"y":99.66},{"s":"R11","x":1300,"y":99.41},{"s":"R11","x":1290,"y":99.15},{"s":"R11","x":1280,"y":98.87},{"s":"R11","x":1268,"y":98.64},{"s":"R11","x":1258,"y":98.97},{"s":"R11","x":1250,"y":99.24},{"s":"R11","x":1242,"y":99.33},{"s":"R11","x":1234,"y":99.44},{"s":"R11","x":1224,"y":99.58},{"s":"R11","x":1214,"y":99.67},{"s":"R11","x":1200,"y":99.73},{"s":"R11","x":1190,"y":99.71},{"s":"R11","x":1178,"y":99.69},{"s":"R11","x":1168,"y":99.67},{"s":"R11","x":1159,"y":99.66},
{"s":"R12","x":1552,"y":99.84},{"s":"R12","x":1530,"y":99.83},{"s":"R12","x":1510,"y":99.82},{"s":"R12","x":1495,"y":99.81},{"s":"R12","x":1485,"y":99.78},{"s":"R12","x":1475,"y":99.72},{"s":"R12","x":1462,"y":99.67},{"s":"R12","x":1450,"y":99.73},{"s":"R12","x":1440,"y":99.77},{"s":"R12","x":1428,"y":99.79},{"s":"R12","x":1412,"y":99.77},{"s":"R12","x":1400,"y":99.71},{"s":"R12","x":1390,"y":99.63},{"s":"R12","x":1380,"y":99.70},{"s":"R12","x":1370,"y":99.73},{"s":"R12","x":1360,"y":99.75},{"s":"R12","x":1345,"y":99.73},{"s":"R12","x":1330,"y":99.78},{"s":"R12","x":1320,"y":99.76},{"s":"R12","x":1310,"y":99.66},{"s":"R12","x":1300,"y":99.40},{"s":"R12","x":1290,"y":99.12},{"s":"R12","x":1280,"y":98.82},{"s":"R12","x":1268,"y":98.58},{"s":"R12","x":1258,"y":98.92},{"s":"R12","x":1250,"y":99.21},{"s":"R12","x":1242,"y":99.30},{"s":"R12","x":1234,"y":99.41},{"s":"R12","x":1224,"y":99.56},{"s":"R12","x":1214,"y":99.65},{"s":"R12","x":1200,"y":99.72},{"s":"R12","x":1190,"y":99.70},{"s":"R12","x":1178,"y":99.67},{"s":"R12","x":1168,"y":99.68},{"s":"R12","x":1159,"y":99.70},
{"s":"R14","x":1552,"y":99.82},{"s":"R14","x":1530,"y":99.81},{"s":"R14","x":1510,"y":99.80},{"s":"R14","x":1495,"y":99.79},{"s":"R14","x":1485,"y":99.75},{"s":"R14","x":1475,"y":99.69},{"s":"R14","x":1462,"y":99.64},{"s":"R14","x":1450,"y":99.70},{"s":"R14","x":1440,"y":99.74},{"s":"R14","x":1428,"y":99.76},{"s":"R14","x":1412,"y":99.74},{"s":"R14","x":1400,"y":99.66},{"s":"R14","x":1390,"y":99.55},{"s":"R14","x":1380,"y":99.66},{"s":"R14","x":1370,"y":99.71},{"s":"R14","x":1360,"y":99.74},{"s":"R14","x":1345,"y":99.72},{"s":"R14","x":1330,"y":99.77},{"s":"R14","x":1320,"y":99.75},{"s":"R14","x":1310,"y":99.65},{"s":"R14","x":1300,"y":99.37},{"s":"R14","x":1290,"y":99.09},{"s":"R14","x":1280,"y":98.78},{"s":"R14","x":1268,"y":98.53},{"s":"R14","x":1258,"y":98.89},{"s":"R14","x":1250,"y":99.20},{"s":"R14","x":1242,"y":99.29},{"s":"R14","x":1234,"y":99.41},{"s":"R14","x":1224,"y":99.57},{"s":"R14","x":1214,"y":99.67},{"s":"R14","x":1200,"y":99.74},{"s":"R14","x":1190,"y":99.72},{"s":"R14","x":1178,"y":99.70},{"s":"R14","x":1168,"y":99.66},{"s":"R14","x":1159,"y":99.64},
{"s":"RF","x":1552,"y":99.86},{"s":"RF","x":1530,"y":99.85},{"s":"RF","x":1510,"y":99.83},{"s":"RF","x":1495,"y":99.82},{"s":"RF","x":1485,"y":99.81},{"s":"RF","x":1462,"y":99.81},{"s":"RF","x":1440,"y":99.82},{"s":"RF","x":1400,"y":99.82},{"s":"RF","x":1370,"y":99.82},{"s":"RF","x":1345,"y":99.81},{"s":"RF","x":1320,"y":99.80},{"s":"RF","x":1310,"y":99.79},{"s":"RF","x":1300,"y":99.73},{"s":"RF","x":1290,"y":99.63},{"s":"RF","x":1283,"y":99.55},{"s":"RF","x":1273,"y":99.48},{"s":"RF","x":1262,"y":99.53},{"s":"RF","x":1251,"y":99.60},{"s":"RF","x":1246,"y":99.68},{"s":"RF","x":1235,"y":99.73},{"s":"RF","x":1225,"y":99.78},{"s":"RF","x":1214,"y":99.80},{"s":"RF","x":1200,"y":99.81},{"s":"RF","x":1190,"y":99.80},{"s":"RF","x":1178,"y":99.78},{"s":"RF","x":1168,"y":99.77},{"s":"RF","x":1159,"y":99.76},
{"s":"R0","x":1552,"y":100.04},{"s":"R0","x":1528,"y":100.03},{"s":"R0","x":1514,"y":100.01},{"s":"R0","x":1501,"y":99.98},{"s":"R0","x":1493,"y":99.90},{"s":"R0","x":1485,"y":99.83},{"s":"R0","x":1477,"y":99.70},{"s":"R0","x":1472,"y":99.58},{"s":"R0","x":1468,"y":99.54},{"s":"R0","x":1460,"y":99.58},{"s":"R0","x":1453,"y":99.68},{"s":"R0","x":1443,"y":99.76},{"s":"R0","x":1430,"y":99.82},{"s":"R0","x":1412,"y":99.79},{"s":"R0","x":1399,"y":99.72},{"s":"R0","x":1393,"y":99.40},{"s":"R0","x":1387,"y":99.07},{"s":"R0","x":1382,"y":99.31},{"s":"R0","x":1376,"y":99.50},{"s":"R0","x":1366,"y":99.60},{"s":"R0","x":1355,"y":99.62},{"s":"R0","x":1347,"y":99.62},{"s":"R0","x":1336,"y":99.73},{"s":"R0","x":1330,"y":99.78},{"s":"R0","x":1320,"y":99.78},{"s":"R0","x":1310,"y":99.73},{"s":"R0","x":1300,"y":99.40},{"s":"R0","x":1290,"y":98.95},{"s":"R0","x":1284,"y":98.62},{"s":"R0","x":1274,"y":97.73},{"s":"R0","x":1266,"y":97.34},{"s":"R0","x":1262,"y":97.47},{"s":"R0","x":1258,"y":97.84},{"s":"R0","x":1254,"y":98.40},{"s":"R0","x":1250,"y":98.75},{"s":"R0","x":1246,"y":98.89},{"s":"R0","x":1238,"y":98.99},{"s":"R0","x":1225,"y":99.20},{"s":"R0","x":1214,"y":99.44},{"s":"R0","x":1204,"y":99.65},{"s":"R0","x":1197,"y":99.76},{"s":"R0","x":1190,"y":99.77},{"s":"R0","x":1184,"y":99.70},{"s":"R0","x":1180,"y":99.62},{"s":"R0","x":1177,"y":99.50},{"s":"R0","x":1172,"y":99.49},{"s":"R0","x":1166,"y":99.51},{"s":"R0","x":1159,"y":99.42}
]
},
"hconcat":[
{
"width":516,"height":619,
"layer":[
{"data":{"name":"left"},"mark":{"type":"line","interpolate":"monotone","color":"#222","strokeWidth":0.8,"clip":true},
"encoding":{
"x":{"field":"x","type":"quantitative","scale":{"domain":[1148.3,1555.4],"reverse":true,"nice":false,"zero":false},"axis":{"values":[1500,1400,1300,1200],"ticks":false,"domain":false,"labelPadding":0,"labelFontSize":13,"format":"d"}},
"y":{"field":"y","type":"quantitative","scale":{"domain":[97.244,100.116],"nice":false,"zero":false},"axis":{"values":[97.5,98,98.5,99,99.5,100],"domain":false,"tickSize":4,"labelPadding":1,"labelExpr":"datum.value % 1 === 0 ? format(datum.value, 'd') : ''"}},
"detail":{"field":"s"}}},
{"data":{"values":[{"t":"1468-1471","x":1468.5,"y":99.095},{"t":"~1285","x":1310.7,"y":98.538},{"t":"1248-1259","x":1256.3,"y":97.295}]},
"mark":{"type":"text","font":"Liberation Sans","fontWeight":"bold","fontSize":23,"color":"#111","baseline":"middle","align":"center"},
"encoding":{"x":{"field":"x","type":"quantitative"},"y":{"field":"y","type":"quantitative"},"text":{"field":"t"}}}
]
},
{
"width":494,"height":619,
"view":{"stroke":null},
"resolve":{"axis":{"x":"independent"}},
"layer":[
{"data":{"name":"right"},"mark":{"type":"line","interpolate":"monotone","color":"#222","strokeWidth":0.8,"clip":true},
"encoding":{
"x":{"field":"x","type":"quantitative","scale":{"domain":[1158.8,1552.4],"reverse":true,"nice":false,"zero":false},"axis":{"values":[1500,1400,1300,1200],"ticks":false,"domain":true,"labelPadding":0,"labelFontSize":13,"format":"d"}},
"y":{"field":"y","type":"quantitative","scale":{"domain":[97.175,100.15],"nice":false,"zero":false},"axis":{"values":[97.5,98,98.5,99,99.5,100],"domain":true,"tickSize":4,"labelPadding":1,"labelExpr":"datum.value % 1 === 0 ? format(datum.value, 'd') : ''"}},
"detail":{"field":"s"}}},
{"data":{"values":[{"t":"1462-1466","x":1473.7,"y":99.453},{"t":"~1240","x":1213.9,"y":98.80},{"t":"1265-1273","x":1269.7,"y":97.251}]},
"mark":{"type":"text","font":"Liberation Sans","fontWeight":"bold","fontSize":23,"color":"#111","baseline":"middle","align":"center"},
"encoding":{"x":{"field":"x","type":"quantitative","axis":{"orient":"top","labels":false,"ticks":false,"domain":true}},"y":{"field":"y","type":"quantitative"},"text":{"field":"t"}}}
]
}
]
}
